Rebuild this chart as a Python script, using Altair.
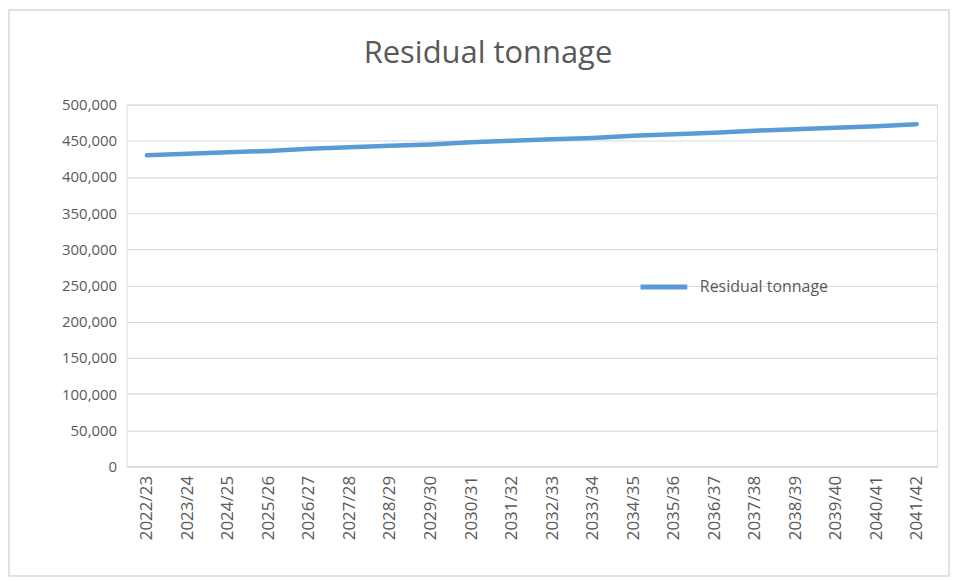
import altair as alt
import pandas as pd

years = ["2022/23", "2023/24", "2024/25", "2025/26", "2026/27", "2027/28", "2028/29",
         "2029/30", "2030/31", "2031/32", "2032/33", "2033/34", "2034/35", "2035/36",
         "2036/37", "2037/38", "2038/39", "2039/40", "2040/41", "2041/42"]
tonnage = [430000, 432000, 434000, 436000, 439000, 441000, 443000, 445000, 448000, 450000,
           452000, 454000, 457000, 459000, 461000, 464000, 466000, 468000, 470000, 473000]
series_name = "Residual tonnage"
y_ticks = list(range(0, 500001, 50000))

df = pd.DataFrame({"year": years, "value": tonnage, "series": [series_name] * len(years)})

FONT = "Open Sans"
GREY = "#595959"

line = alt.Chart(df).mark_line(strokeWidth=4.5, strokeCap="round", strokeJoin="round").encode(
    x=alt.X("year:O", sort=years,
            scale=alt.Scale(padding=0.5),
            axis=alt.Axis(title=None, labelAngle=-90, labelAlign="right", labelBaseline="middle",
                          labelPadding=9, ticks=False, grid=False, domain=True,
                          domainColor="#D9D9D9", domainWidth=1.2,
                          labelColor=GREY, labelFont=FONT, labelFontSize=17)),
    y=alt.Y("value:Q", scale=alt.Scale(domain=[0, 500000], nice=False),
            axis=alt.Axis(title=None, values=y_ticks, format=",d", ticks=False, domain=False,
                          grid=True, gridColor="#D9D9D9", gridWidth=1.2,
                          labelColor=GREY, labelFont=FONT, labelFontSize=15, labelPadding=10)),
    color=alt.Color("series:N", scale=alt.Scale(range=["#5B9BD5"]),
                    legend=alt.Legend(title=None, orient="none", legendX=513, legendY=157,
                                      symbolType="stroke", symbolSize=2200, symbolStrokeWidth=5,
                                      labelFont=FONT, labelFontSize=16, labelColor=GREY,
                                      labelOffset=10)),
)

border = alt.Chart(pd.DataFrame({"k": [0]})).mark_rect(
    fillOpacity=0, stroke="#D9D9D9", strokeWidth=1.5
).encode(
    x=alt.value(-118), x2=alt.value(825), y=alt.value(-95), y2=alt.value(473)
)

chart = alt.layer(border, line).properties(
    width=813, height=363,
    title=alt.TitleParams(series_name, font=FONT, fontSize=31, fontWeight="normal",
                          color=GREY, anchor="middle", offset=-61, dx=-44),
    autosize=alt.AutoSizeParams(type="none"),
    padding={"left": 119, "top": 96, "right": 13, "bottom": 111},
).configure_view(stroke=None).configure(background="white")

chart.save("out.html", embed_options={"renderer": "svg", "actions": False})
